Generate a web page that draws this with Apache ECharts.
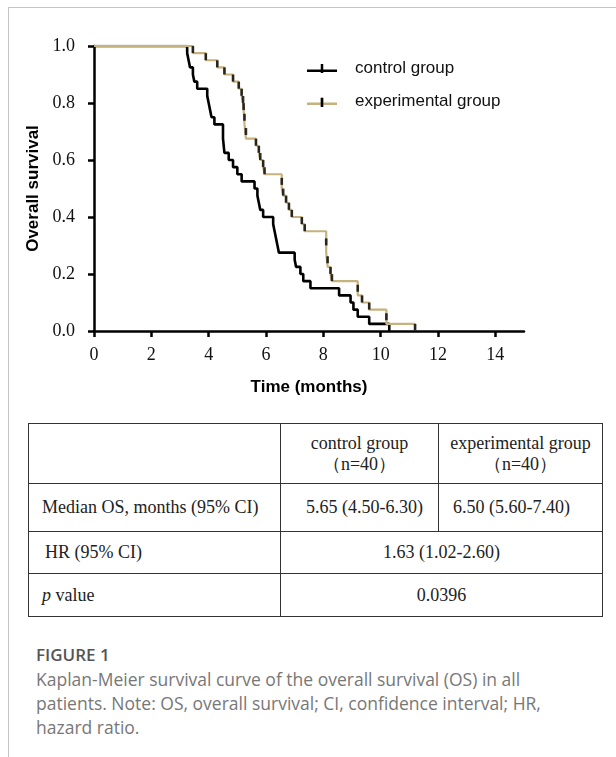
<!DOCTYPE html>
<html>
<head>
<meta charset="utf-8">
<script src="https://cdn.jsdelivr.net/npm/echarts@6/dist/echarts.min.js"></script>
<style>
  html, body { margin: 0; padding: 0; background: #fff; }
  #page { position: relative; width: 616px; height: 757px; overflow: hidden; }
  #card { position: absolute; left: 8px; top: 7px; right: -2px; bottom: -2px; border-top: 1px solid #c4c4c4; border-left: 1px solid #c4c4c4; }
  #chart { position: absolute; left: 0; top: 0; width: 616px; height: 420px; }
  table { position: absolute; left: 28px; top: 423px; width: 574px; border-collapse: collapse;
          font-family: 'Liberation Serif', 'Times New Roman', serif; font-size: 18px; color: #222; table-layout: fixed; }
  td { border: 1.5px solid #333; padding: 0; line-height: 21px; box-sizing: border-box; }
  #caption { position: absolute; left: 36px; top: 643px; width: 575px; font-family: 'Open Sans', sans-serif; color: #777; white-space: nowrap; }
  #caption .fig { font-weight: 600; color: #555; font-size: 17px; line-height: 24px; }
  #caption .txt { font-size: 17.5px; line-height: 24px; }
</style>
</head>
<body>
<div id="page">
  <div id="card"></div>
  <div id="chart"></div>
  <table>
    <tr style="height:60px">
      <td style="width:252px"></td>
      <td style="width:158px;text-align:center">control group<br>（n=40）</td>
      <td style="width:164px;text-align:center">experimental group<br>（n=40）</td>
    </tr>
    <tr style="height:48px">
      <td style="padding-left:13px">Median OS, months (95% CI)</td>
      <td style="text-align:center;padding-left:10px">5.65 (4.50-6.30)</td>
      <td style="text-align:center;padding-right:18px">6.50 (5.60-7.40)</td>
    </tr>
    <tr style="height:42px">
      <td style="padding-left:16px">HR (95% CI)</td>
      <td colspan="2" style="text-align:center">1.63 (1.02-2.60)</td>
    </tr>
    <tr style="height:43px">
      <td style="padding-left:13px"><i>p</i> value</td>
      <td colspan="2" style="text-align:center">0.0396</td>
    </tr>
  </table>
  <div id="caption">
    <div class="fig">FIGURE 1</div>
    <div class="txt">Kaplan-Meier survival curve of the overall survival (OS) in all<br>patients. Note: OS, overall survival; CI, confidence interval; HR,<br>hazard ratio.</div>
  </div>
</div>
<script>
// ---- data ----
const ctrlTime = [0, 3.25, 3.3, 3.35, 3.45, 3.5, 3.6, 3.95, 4.0, 4.05, 4.1, 4.2, 4.5, 4.55, 4.7, 4.85, 5.0, 5.15, 5.6, 5.7, 5.75, 5.8, 5.9, 6.25, 6.3, 6.35, 6.4, 6.45, 7.0, 7.05, 7.2, 7.3, 7.55, 8.55, 8.95, 9.05, 9.2, 9.6, 10.3];
const ctrlSurv = [1, 0.975, 0.95, 0.925, 0.9, 0.875, 0.85, 0.825, 0.8, 0.775, 0.75, 0.725, 0.675, 0.625, 0.6, 0.575, 0.55, 0.525, 0.5, 0.475, 0.45, 0.425, 0.4, 0.375, 0.35, 0.325, 0.3, 0.275, 0.25, 0.225, 0.2, 0.175, 0.15, 0.125, 0.1, 0.075, 0.05, 0.025, 0];
const expTime = [0, 3.45, 3.9, 4.3, 4.55, 4.85, 5.05, 5.15, 5.2, 5.22, 5.25, 5.3, 5.65, 5.75, 5.8, 5.9, 5.95, 6.55, 6.6, 6.7, 6.8, 6.9, 7.25, 7.35, 8.1, 8.15, 8.25, 8.3, 9.2, 9.35, 9.6, 10.2, 11.2];
const expSurv = [1, 0.975, 0.95, 0.925, 0.9, 0.875, 0.85, 0.825, 0.8, 0.775, 0.725, 0.675, 0.65, 0.625, 0.6, 0.575, 0.55, 0.5, 0.475, 0.45, 0.425, 0.4, 0.375, 0.35, 0.275, 0.225, 0.2, 0.175, 0.125, 0.1, 0.075, 0.025, 0];
const seriesNames = ['control group', 'experimental group'];
const xTicks = [0, 2, 4, 6, 8, 10, 12, 14];
const yTicks = [0, 0.2, 0.4, 0.6, 0.8, 1.0];

const BLACK = '#000000';
const TAN = '#c6b27c';

const ctrlData = ctrlTime.map((t, i) => [t, ctrlSurv[i]]);
const expData = expTime.map((t, i) => [t, expSurv[i]]);
// tick marks drawn on each drop of the experimental curve
const expMarks = expTime.slice(1).map((t, i) => [t, (expSurv[i] + expSurv[i + 1]) / 2]);

const legendIcon = 'path://M0,5.5L30,5.5L30,8L0,8Z M13.75,0L16.25,0L16.25,9L13.75,9Z';
const legendCommon = {
  orient: 'vertical', left: 307, padding: 0, itemWidth: 30, itemHeight: 9,
  selectedMode: false,
  textStyle: { fontFamily: 'Liberation Sans, Arial, sans-serif', fontSize: 17, color: '#111', padding: [0, 0, 0, 13] }
};

const chart = echarts.init(document.getElementById('chart'), null, { renderer: 'canvas' });
chart.setOption({
  animation: false,
  backgroundColor: 'transparent',
  grid: { left: 94, top: 46, width: 430, height: 285 },
  legend: [
    Object.assign({ top: 60, data: [{ name: seriesNames[0], icon: legendIcon }] }, legendCommon),
    Object.assign({ top: 93, data: [{ name: seriesNames[1], icon: legendIcon }] }, legendCommon)
  ],
  xAxis: {
    type: 'value', min: 0, max: 15,
    name: 'Time (months)', nameLocation: 'middle', nameGap: 48,
    nameTextStyle: { fontFamily: 'Liberation Sans, Arial, sans-serif', fontWeight: 'bold', fontSize: 17, color: '#000' },
    axisLine: { show: true, lineStyle: { color: BLACK, width: 2.5 } },
    axisTick: { show: true, length: 6, lineStyle: { color: BLACK, width: 2.5 }, customValues: xTicks },
    axisLabel: { customValues: xTicks, fontFamily: 'Liberation Serif, Times New Roman, serif', fontSize: 18, color: '#111', margin: 15 },
    splitLine: { show: false }
  },
  yAxis: {
    type: 'value', min: 0, max: 1, interval: 0.2,
    name: 'Overall survival', nameLocation: 'middle', nameGap: 50,
    nameTextStyle: { fontFamily: 'Liberation Sans, Arial, sans-serif', fontWeight: 'bold', fontSize: 17, color: '#000' },
    axisLine: { show: true, lineStyle: { color: BLACK, width: 2.5 } },
    axisTick: { show: true, length: 6, lineStyle: { color: BLACK, width: 2.5 }, customValues: yTicks },
    axisLabel: { customValues: yTicks, formatter: v => v.toFixed(1), fontFamily: 'Liberation Serif, Times New Roman, serif', fontSize: 18, color: '#111', margin: 19 },
    splitLine: { show: false }
  },
  series: [
    {
      name: seriesNames[0], type: 'line', step: 'end', data: ctrlData,
      showSymbol: false, symbol: 'none', z: 2,
      itemStyle: { color: BLACK }, lineStyle: { color: BLACK, width: 2.6 }
    },
    {
      name: seriesNames[1], type: 'line', step: 'end', data: expData,
      showSymbol: false, symbol: 'none', z: 3,
      itemStyle: { color: TAN }, lineStyle: { color: TAN, width: 2.2 }
    },
    {
      name: 'experimental marks', type: 'scatter', data: expMarks,
      symbol: 'rect', symbolSize: [2.6, 7], z: 4,
      itemStyle: { color: BLACK }, silent: true
    }
  ],
  graphic: [
    { type: 'rect', shape: { x: 320.7, y: 98, width: 2.6, height: 9 }, style: { fill: BLACK }, z: 100 }
  ]
});
</script>
</body>
</html>
